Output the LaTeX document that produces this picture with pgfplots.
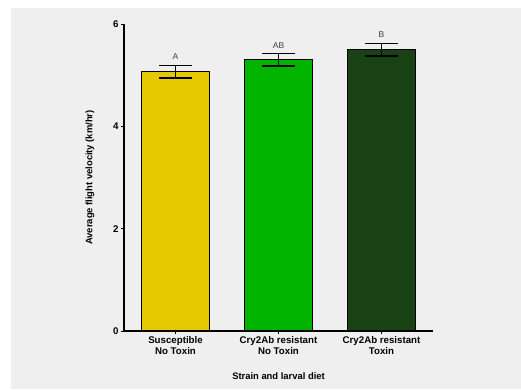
\documentclass[border=0pt]{standalone}
\usepackage{fontspec}
\setmainfont{Liberation Sans}
\usepackage{pgfplots}
\pgfplotsset{compat=1.18}
\definecolor{bg}{HTML}{EFEFEF}
\definecolor{cyel}{HTML}{E6C800}
\definecolor{cgrn}{HTML}{00B400}
\definecolor{cdkg}{HTML}{1A4315}
\pgfplotsset{myerr/.style={
  error bars/y dir=both, error bars/y explicit,
  error bars/error bar style={line width=1.6pt, black},
  error bars/error mark options={rotate=90, mark size=16.5pt, line width=1.6pt, black}}}
\begin{document}
\begin{tikzpicture}
\fill[white] (-124pt,-58pt) rectangle (397pt,331pt);
\fill[bg] (-113pt,-58pt) rectangle (397pt,323pt);
\begin{axis}[
  scale only axis, width=309pt, height=307pt,
  at={(0pt,0pt)}, anchor=south west,
  xmin=-0.5, xmax=2.5, ymin=0, ymax=6,
  axis lines*=left,
  axis line style={line width=1.2pt},
  ytick={0,2,4,6}, xtick={0,1,2},
  xticklabels={{Susceptible\\No Toxin},{Cry2Ab resistant\\No Toxin},{Cry2Ab resistant\\Toxin}},
  tick align=outside, major tick length=3pt,
  tick style={line width=1pt, black},
  /pgf/number format/assume math mode=true,
  tick label style={font=\bfseries\fontsize{9.7}{11}\selectfont},
  x tick label style={align=center, yshift=1pt},
  yticklabel style={xshift=1pt},
  ylabel={Average flight velocity (km/hr)},
  xlabel={Strain and larval diet},
  label style={font=\bfseries\fontsize{9.4}{11}\selectfont},
  ylabel style={at={(axis description cs:0,0.5)}, anchor=south, yshift=26pt},
  xlabel style={at={(axis description cs:0.5,0)}, anchor=center, yshift=-45pt},
  ybar, bar width=0.66, bar shift=0pt,
]
\addplot[fill=cyel, draw=black, line width=1.3pt, myerr] coordinates {(0,5.07) +- (0,0.12)};
\addplot[fill=cgrn, draw=black, line width=1.3pt, myerr] coordinates {(1,5.30) +- (0,0.12)};
\addplot[fill=cdkg, draw=black, line width=1.3pt, myerr] coordinates {(2,5.50) +- (0,0.12)};
\addplot[draw=none, fill=none, mark=none, nodes near coords, point meta=explicit symbolic,
  nodes near coords style={anchor=south, font=\fontsize{8.5}{10}\selectfont, text=black!75, yshift=2pt}]
  coordinates {(0,5.19)[A] (1,5.42)[AB] (2,5.62)[B]};
\end{axis}
\end{tikzpicture}
\end{document}
